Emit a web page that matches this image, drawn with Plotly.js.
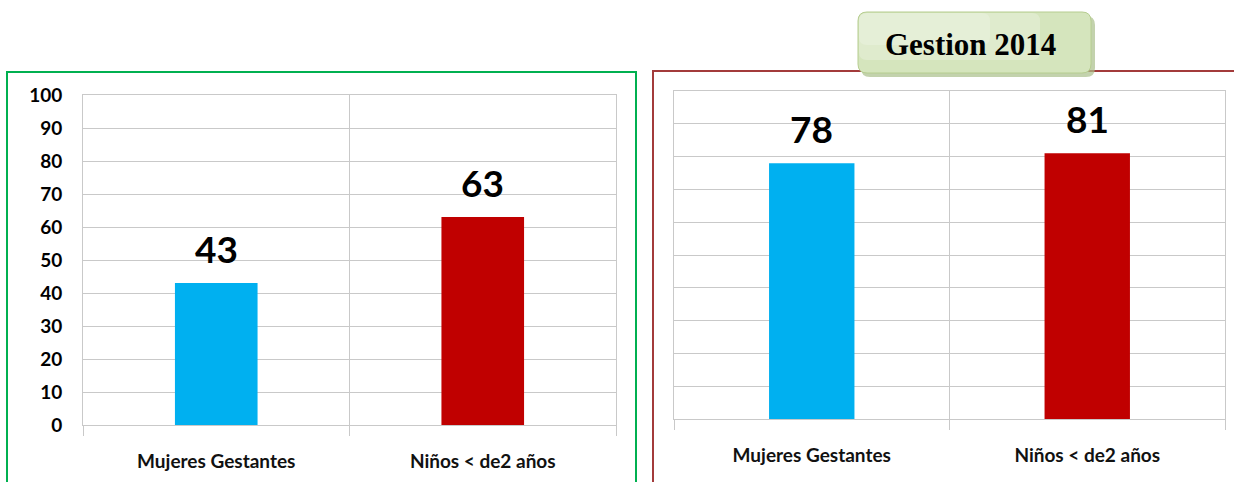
<!DOCTYPE html>
<html>
<head>
<meta charset="utf-8">
<script src="https://cdn.plot.ly/plotly-3.0.1.min.js"></script>
<style>html,body{margin:0;padding:0;background:#fff;}#chart{width:1234px;height:482px;}</style>
</head>
<body>
<div id="chart"></div>
<script>
// ---- data ----
const categories = ["Mujeres Gestantes", "Niños < de2 años"];
const valuesLeft = [43, 63];
const valuesRight = [78, 81];
const barColors = ["#00b0f0", "#c00000"];
const yTicks = [0, 10, 20, 30, 40, 50, 60, 70, 80, 90, 100];
const boxTitle = "Gestion 2014";

const W = 1234, H = 482;
const px = x => x / W;
const py = y => 1 - y / H;

function roundRect(x0, y0, x1, y1, r) {
  const rx = r / W, ry = r / H;
  const X0 = px(x0), X1 = px(x1), Y0 = py(y0), Y1 = py(y1);
  return `M${X0 + rx},${Y0} L${X1 - rx},${Y0} Q${X1},${Y0} ${X1},${Y0 - ry} ` +
         `L${X1},${Y1 + ry} Q${X1},${Y1} ${X1 - rx},${Y1} L${X0 + rx},${Y1} ` +
         `Q${X0},${Y1} ${X0},${Y1 + ry} L${X0},${Y0 - ry} Q${X0},${Y0} ${X0 + rx},${Y0} Z`;
}

const grid = "#c9c9c9";
const font = "Lato, 'Open Sans', sans-serif";

const traces = [
  { type: "bar", x: categories, y: valuesLeft, xaxis: "x", yaxis: "y",
    marker: { color: barColors }, hoverinfo: "skip" },
  { type: "bar", x: categories, y: valuesRight, xaxis: "x2", yaxis: "y2",
    marker: { color: barColors }, hoverinfo: "skip" }
];

function xAxis(domain, anchor) {
  return {
    domain: domain, anchor: anchor, type: "category", tickson: "boundaries",
    showgrid: true, gridcolor: grid, gridwidth: 1,
    ticks: "outside", ticklen: 10, tickcolor: grid,
    showline: true, linecolor: grid, mirror: true,
    tickfont: { family: font, size: 19, color: "#111", weight: "bold" },
    ticklabelstandoff: 19, fixedrange: true
  };
}
function yAxis(domain, anchor, labels) {
  return {
    domain: domain, anchor: anchor, range: [0, 100], tickvals: yTicks,
    showgrid: true, gridcolor: grid, gridwidth: 1, zeroline: false,
    showline: true, linecolor: grid, mirror: true, ticks: "",
    showticklabels: labels,
    tickfont: { family: font, size: 19, color: "#000", weight: "bold" },
    ticklabelstandoff: 16, fixedrange: true
  };
}

const annotations = [];
function addLabels(vals, xr, yr) {
  vals.forEach((v, i) => annotations.push({
    x: categories[i], y: v, xref: xr, yref: yr, text: String(v),
    showarrow: false, yanchor: "bottom", yshift: 10,
    font: { family: font, size: 37, color: "#000", weight: "bold" }
  }));
}
addLabels(valuesLeft, "x", "y");
addLabels(valuesRight, "x2", "y2");
annotations.push({
  x: px(970), y: py(44), xref: "paper", yref: "paper", text: boxTitle,
  showarrow: false, xanchor: "center", yanchor: "middle",
  font: { family: "'Liberation Serif', 'DejaVu Serif', serif", size: 31, color: "#000", weight: "bold" }
});

const shapes = [
  { type: "rect", xref: "paper", yref: "paper", x0: px(7), x1: px(636), y0: py(500), y1: py(72),
    line: { color: "#00b050", width: 2 }, fillcolor: "rgba(0,0,0,0)", layer: "above" },
  { type: "rect", xref: "paper", yref: "paper", x0: px(653), x1: px(1250), y0: py(500), y1: py(71),
    line: { color: "#a33b3b", width: 2 }, fillcolor: "rgba(0,0,0,0)", layer: "above" },
  { type: "path", xref: "paper", yref: "paper", path: roundRect(861, 16, 1095, 77, 9),
    fillcolor: "#a9bf8a", opacity: 0.7, line: { width: 0 }, layer: "above" },
  { type: "path", xref: "paper", yref: "paper", path: roundRect(858, 12, 1091, 73, 9),
    fillcolor: "#d5e5bd", line: { color: "#b6cd90", width: 1 }, layer: "above" },
  { type: "path", xref: "paper", yref: "paper", path: roundRect(859, 13, 1040, 60, 8),
    fillcolor: "rgba(255,255,255,0.25)", line: { width: 0 }, layer: "above" },
  { type: "path", xref: "paper", yref: "paper", path: roundRect(859, 13, 990, 45, 8),
    fillcolor: "rgba(255,255,255,0.2)", line: { width: 0 }, layer: "above" }
];

const layout = {
  width: W, height: H, margin: { l: 0, r: 0, t: 0, b: 0 },
  paper_bgcolor: "#fff", plot_bgcolor: "#fff", showlegend: false,
  bargap: 0.69,
  xaxis: xAxis([px(83), px(616)], "y"),
  yaxis: yAxis([py(425), py(95)], "x", true),
  xaxis2: xAxis([px(674), px(1225)], "y2"),
  yaxis2: yAxis([py(419), py(91)], "x2", false),
  annotations: annotations, shapes: shapes
};

Plotly.newPlot("chart", traces, layout, { displayModeBar: false, staticPlot: true });
</script>
</body>
</html>
